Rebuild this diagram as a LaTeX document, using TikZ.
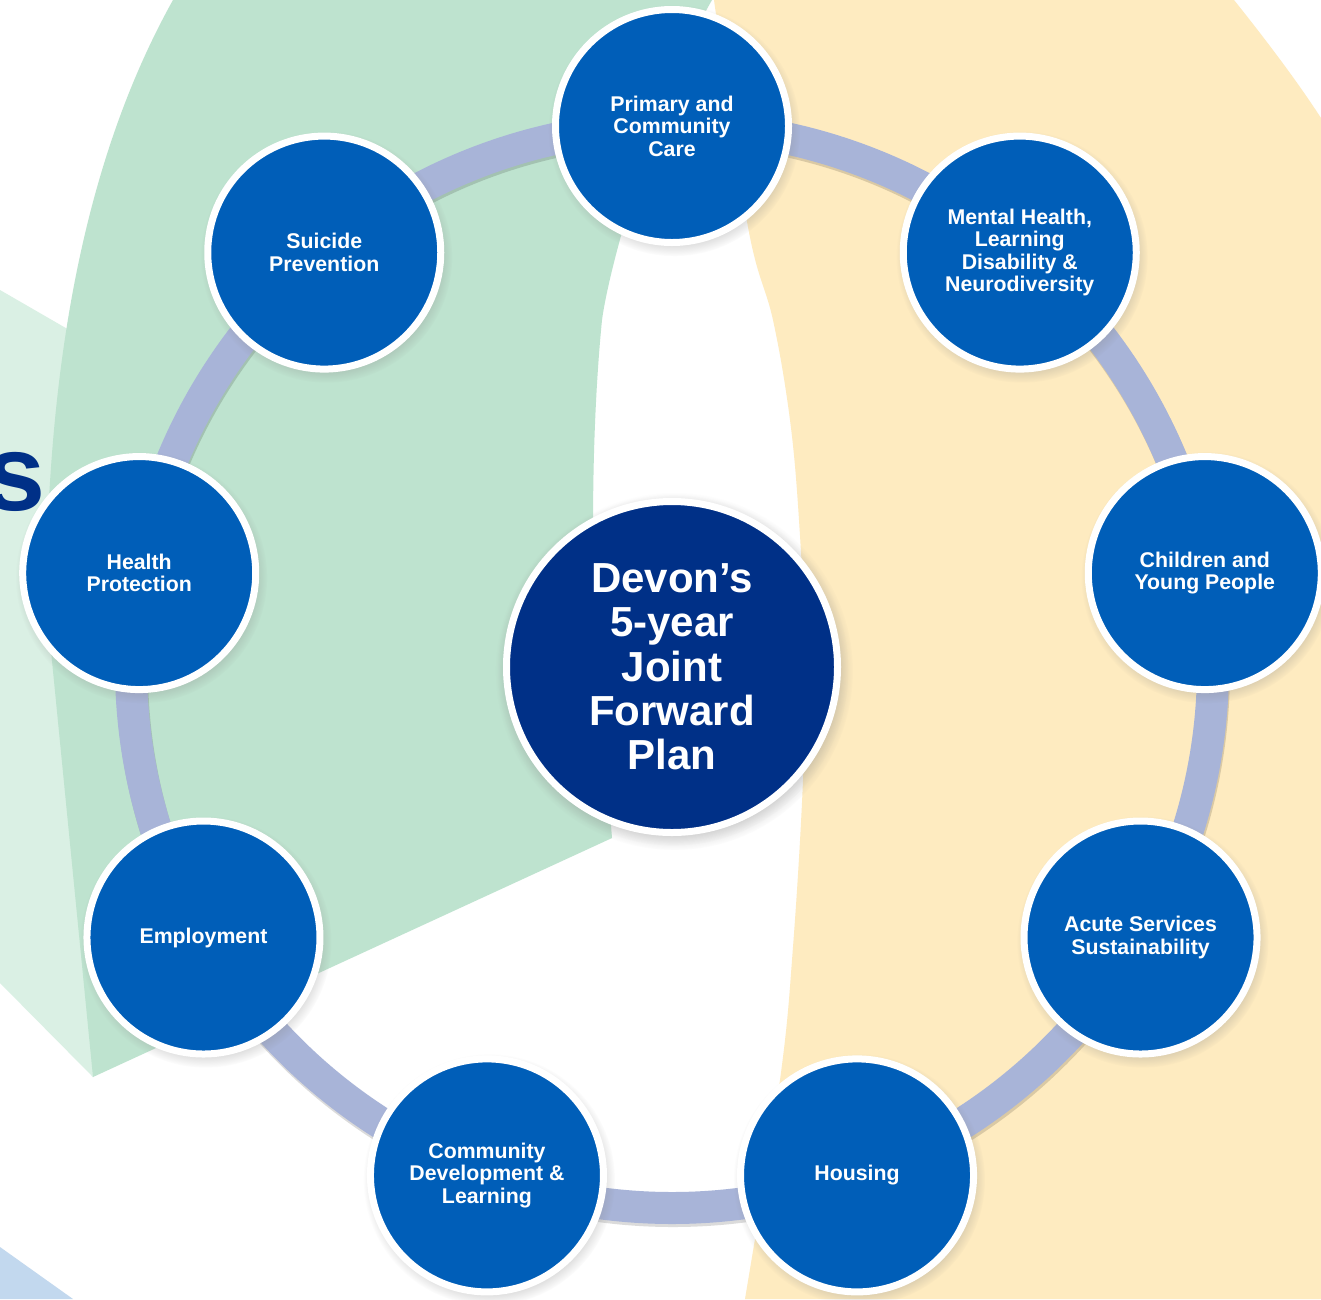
\documentclass[tikz,border=0pt]{standalone}
\usepackage{fontspec}
\setmainfont{Liberation Sans}
\usetikzlibrary{shadows,fadings}
\definecolor{bggreen}{HTML}{BEE3CF}
\definecolor{bglight}{HTML}{DAF0E4}
\definecolor{bgyellow}{HTML}{FEEBC0}
\definecolor{bgblue}{HTML}{C2D8EE}
\definecolor{ringcol}{HTML}{A8B4D8}
\definecolor{nodeblue}{HTML}{005EB8}
\definecolor{darkblue}{HTML}{003087}
\pgfdeclarelayer{bg}
\pgfdeclarelayer{mid}
\pgfsetlayers{bg,mid,main}
\tikzset{
  topic/.style={circle, fill=nodeblue, draw=white, line width=7pt,
    minimum size=233pt, inner sep=0pt, align=center, text=white,
    font=\bfseries\fontsize{21.3}{22.4}\selectfont,
    circular drop shadow={shadow scale=1.08, shadow xshift=2pt, shadow yshift=-4pt, opacity=0.4}},
  hub/.style={topic, fill=darkblue, minimum size=331pt,
    font=\bfseries\fontsize{42}{44.3}\selectfont,
    circular drop shadow={shadow scale=1.06, shadow xshift=1pt, shadow yshift=-3pt, opacity=0.3}},
  ringarc/.style={draw=ringcol, line width=32pt},
  ringshade/.style={draw=black, opacity=0.14, line width=32pt},
}
\begin{document}
\begin{tikzpicture}[x=1pt,y=-1pt]
\useasboundingbox (0,0) rectangle (1321,1299);

% background shapes
\begin{pgfonlayer}{bg}
\fill[white] (0,0) rectangle (1321,1299);
\fill[bglight] (0,290) -- (90,342) -- (93,1077) -- (0,983) -- cycle;
\fill[bggreen] (173,0) .. controls (95,140) and (48,330) .. (46,600) -- (93,1077) -- (612,838)
  -- (598,660) .. controls (590,560) and (592,420) .. (602,320)
  .. controls (610,260) and (660,90) .. (712,0) -- cycle;
\fill[bgyellow] plot[smooth, tension=0.6] coordinates {(745,1299) (780,1080) (793,947) (803,780) (805,650) (799,520) (790,420) (773,320) (748,227) (714,0)}
  -- (1234,0) .. controls (1262,35) and (1295,78) .. (1321,118) -- (1321,1299) -- cycle;
\fill[bgblue] (0,1247) -- (73,1299) -- (0,1299) -- cycle;
\node[anchor=base east, inner sep=0pt, text=darkblue,
  font=\bfseries\fontsize{108}{108}\selectfont] (sletter) at (46,510) {s};
\end{pgfonlayer}

% nodes
\node[hub] (hub) at (672,667) {Devon’s\\5-year\\Joint\\Forward\\Plan};
\node[topic] (n1) at (672,126) {Primary and\\Community\\Care};
\node[topic] (n2) at ({672+541*cos(50)},{667-541*sin(50)}) {Mental Health,\\Learning\\Disability \&\\Neurodiversity};
\node[topic] (n3) at ({672+541*cos(10)},{667-541*sin(10)}) {Children and\\Young People};
\node[topic] (n4) at ({672+541*cos(-30)},{667-541*sin(-30)}) {Acute Services\\Sustainability};
\node[topic] (n5) at ({672+541*cos(-70)},{667-541*sin(-70)}) {Housing};
\node[topic] (n6) at ({672+541*cos(-110)},{667-541*sin(-110)}) {Community\\Development \&\\Learning};
\node[topic] (n7) at ({672+541*cos(-150)},{667-541*sin(-150)}) {Employment};
\node[topic] (n8) at ({672+541*cos(170)},{667-541*sin(170)}) {Health\\Protection};
\node[topic] (n9) at ({672+541*cos(130)},{667-541*sin(130)}) {Suicide\\Prevention};

% ring connectors
\begin{pgfonlayer}{mid}
\draw[ringshade] ([shift={(1,3)}]hub.center) circle[radius=541];
\draw[ringarc] (n1.center) arc[start angle=-90, end angle=-50, radius=541];
\draw[ringarc] (n2.center) arc[start angle=-50, end angle=-10, radius=541];
\draw[ringarc] (n3.center) arc[start angle=-10, end angle=30, radius=541];
\draw[ringarc] (n4.center) arc[start angle=30, end angle=70, radius=541];
\draw[ringarc] (n5.center) arc[start angle=70, end angle=110, radius=541];
\draw[ringarc] (n6.center) arc[start angle=110, end angle=150, radius=541];
\draw[ringarc] (n7.center) arc[start angle=150, end angle=190, radius=541];
\draw[ringarc] (n8.center) arc[start angle=190, end angle=230, radius=541];
\draw[ringarc] (n9.center) arc[start angle=230, end angle=270, radius=541];
\end{pgfonlayer}
\end{tikzpicture}
\end{document}
